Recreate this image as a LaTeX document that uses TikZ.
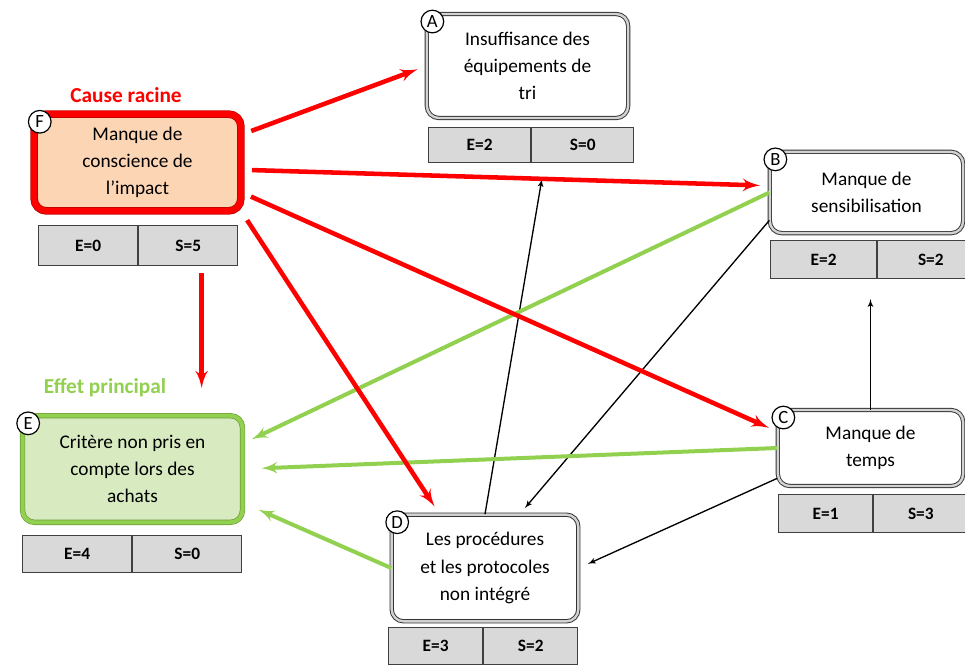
\documentclass[tikz,border=0pt]{standalone}
\usepackage{fontspec}
\setmainfont{Carlito}
\usetikzlibrary{arrows,positioning,calc}

\definecolor{rootred}{RGB}{255,0,0}
\definecolor{leafgreen}{RGB}{146,208,80}
\definecolor{peach}{RGB}{252,213,180}
\definecolor{palegreen}{RGB}{215,234,192}
\definecolor{cellgray}{RGB}{217,217,217}

\tikzset{
  cause/.style={rectangle, rounded corners=9pt, draw=black!80, line width=0.7pt,
    double=gray!35, double distance=1.8pt, fill=white, align=center,
    font=\fontsize{14.5}{20.5}\selectfont},
  rootbox/.style={cause, draw=red!75!black, line width=0.6pt, double=rootred,
    double distance=4.5pt, fill=peach},
  effectbox/.style={cause, draw=leafgreen!75!black, line width=0.5pt, double=leafgreen,
    double distance=3pt, fill=palegreen},
  cell/.style={rectangle, draw=black!75, line width=0.9pt, fill=cellgray, inner sep=0pt,
    font=\bfseries\fontsize{13}{15}\selectfont},
  tag/.style={circle, draw=black, line width=0.9pt, fill=white, inner sep=0pt,
    minimum size=17pt, font=\fontsize{14}{14}\selectfont},
  redarrow/.style={->, draw=rootred, line width=3.4pt, shorten <=8pt, shorten >=7pt},
  greenarrow/.style={->, draw=leafgreen, line width=3pt},
  thinarrow/.style={->, draw=black, line width=1pt},
}

\begin{document}
\begin{tikzpicture}[x=0.75pt, y=-0.75pt, >=latex']
  \useasboundingbox (0,0) rectangle (965,665);

  % boxes
  \node [cause, minimum width=151pt, minimum height=78pt] (A) at (527.5,66)
    {Insuffisance des\\équipements de\\tri};
  \node [cause, minimum width=145pt, minimum height=61pt] (B) at (866.5,192.5)
    {Manque de\\sensibilisation};
  \node [cause, minimum width=139pt, minimum height=57pt] (C) at (870.5,448)
    {Manque de\\temps};
  \node [cause, minimum width=140pt, minimum height=80pt] (D) at (485,568)
    {Les procédures\\et les protocoles\\non intégré};
  \node [effectbox, minimum width=165pt, minimum height=80pt] (E) at (132.5,469)
    {Critère non pris en\\compte lors des\\achats};
  \node [rootbox, minimum width=155pt, minimum height=72.5pt] (F) at (137.5,162.5)
    {Manque de\\conscience de\\l’impact};

  % letters
  \foreach \n in {A,B,C,D,E,F}
    \node [tag] (\n-tag) at ([shift={(6,8)}]\n.north west) {\n};

  % E / S tables
  \node [cell, anchor=north west, minimum width=76.5pt, minimum height=26.25pt] (A-e) at (428,127) {E=2};
  \node [cell, right=0pt of A-e, minimum width=76.5pt, minimum height=26.25pt] (A-s) {S=0};
  \node [cell, anchor=north west, minimum width=79.5pt, minimum height=28.5pt] (B-e) at (770,240) {E=2};
  \node [cell, right=0pt of B-e, minimum width=79.5pt, minimum height=28.5pt] (B-s) {S=2};
  \node [cell, anchor=north west, minimum width=70.5pt, minimum height=28.5pt] (C-e) at (778,494) {E=1};
  \node [cell, right=0pt of C-e, minimum width=70.5pt, minimum height=28.5pt] (C-s) {S=3};
  \node [cell, anchor=north west, minimum width=70.5pt, minimum height=27.75pt] (D-e) at (388,627) {E=3};
  \node [cell, right=0pt of D-e, minimum width=70.5pt, minimum height=27.75pt] (D-s) {S=2};
  \node [cell, anchor=north west, minimum width=81.75pt, minimum height=27.75pt] (E-e) at (22,535) {E=4};
  \node [cell, right=0pt of E-e, minimum width=81.75pt, minimum height=27.75pt] (E-s) {S=0};
  \node [cell, anchor=north west, minimum width=74.25pt, minimum height=30pt] (F-e) at (38,225) {E=0};
  \node [cell, right=0pt of F-e, minimum width=74.25pt, minimum height=30pt] (F-s) {S=5};

  % titles
  \node [text=rootred, font=\bfseries\fontsize{16}{18}\selectfont] (racine) at (126,95) {Cause racine};
  \node [text=leafgreen, font=\bfseries\fontsize{16}{18}\selectfont] (effet) at (105,388) {Effet principal};

  % thin links
  \draw [thinarrow, shorten >=12pt] (D.north) -- ([xshift=10pt]A-e.south east);
  \draw [thinarrow, shorten >=6pt] (B.196) -- ([xshift=26pt]D.north);
  \draw [thinarrow, shorten >=7.5pt] (C.198) -- (D.east);
  \draw [thinarrow, shorten >=15pt] (C.north) -- (C.north |- B-s.south);

  % green links
  \draw [greenarrow, shorten >=7.5pt] (B.west) -- (E.13);
  \draw [greenarrow, shorten >=14pt] (C.west) -- (E.east);
  \draw [greenarrow, shorten >=13pt] (D.west) -- (E.-17);

  % red links
  \draw [redarrow] (F.15) -- (A.west);
  \draw [redarrow] (F.-4) -- (B.176);
  \draw [redarrow] (F.-16) -- (C.170);
  \draw [redarrow] (F.south east) -- ([xshift=-34pt]D.north);
  \draw [redarrow, shorten >=0pt, shorten <=5pt] ([xshift=10pt]F-s.south) -- ([xshift=10pt]F-s.south |- effet);
\end{tikzpicture}
\end{document}
